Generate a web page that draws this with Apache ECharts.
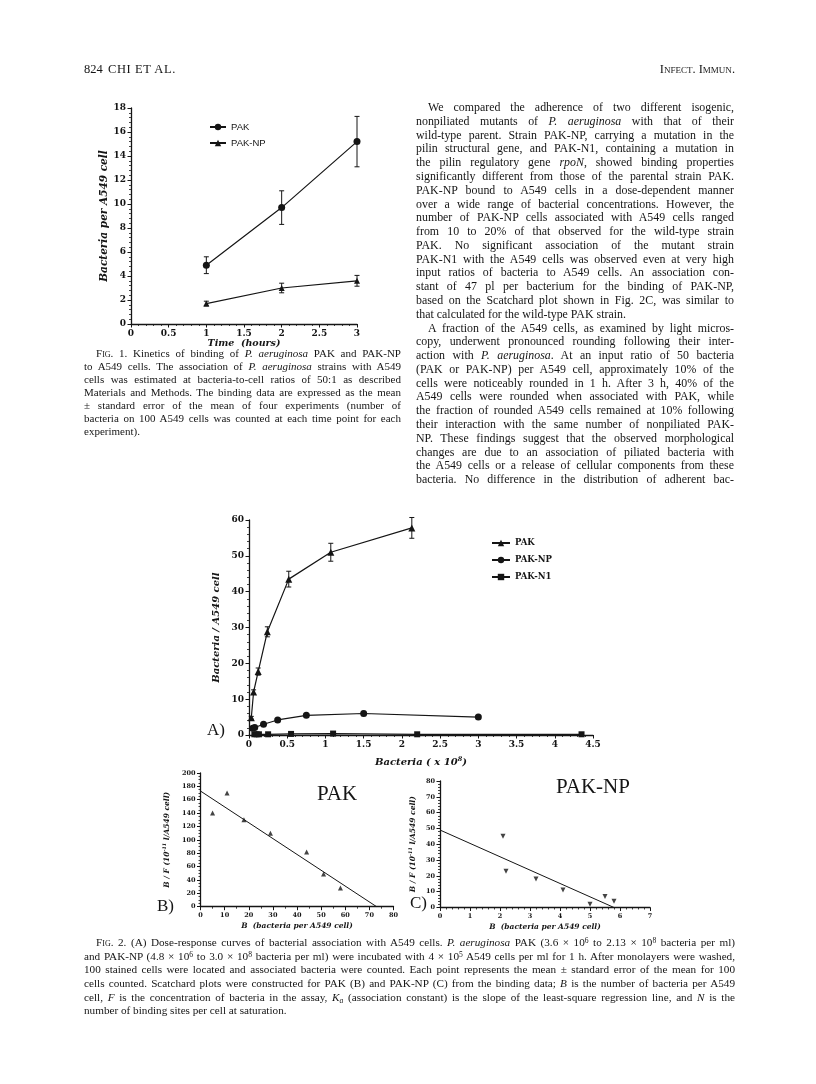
<!DOCTYPE html>
<html>
<head>
<meta charset="utf-8">
<script src="https://cdn.jsdelivr.net/npm/echarts@6/dist/echarts.min.js"></script>
<style>
html, body { margin: 0; padding: 0; background: #fff; }
#page { position: relative; width: 816px; height: 1084px; overflow: hidden; background: #fff; }
#chart { position: absolute; left: 0; top: 0; width: 816px; height: 1084px; }
.ln { position: absolute; white-space: nowrap; font-family: 'Liberation Serif', 'Times New Roman', serif; color: #151515; }
.ln sup { font-size: 0.68em; vertical-align: 0.45em; line-height: 0; }
.ln sub { font-size: 0.68em; vertical-align: -0.2em; line-height: 0; }
.sc { font-variant: small-caps; }
</style>
</head>
<body>
<div id="page">
  <div id="chart"></div>
  <div id="text"></div>
</div>
<script>
// Fig. 1 - kinetics of binding
const fig1Hours = [1, 2, 3]
const fig1Pak = [4.9, 9.7, 15.2]
const fig1PakErr = [0.7, 1.4, 2.1]
const fig1Np = [1.7, 3.0, 3.6]
const fig1NpErr = [0.2, 0.4, 0.45]

// Fig. 2A - dose response (bacteria x 10^8)
const doseBactPak = [0.03, 0.06, 0.12, 0.24, 0.52, 1.07, 2.13]
const dosePak = [4.8, 12, 17.7, 28.8, 43.5, 51, 57.8]
const dosePakErr = [0.4, 0.6, 1.0, 1.4, 2.2, 2.5, 2.9]
const doseBactNp = [0.048, 0.075, 0.19, 0.375, 0.75, 1.5, 3.0]
const doseNp = [1.9, 2.1, 3.0, 4.2, 5.5, 6.0, 5.0]
const doseNpErr = [0.2, 0.2, 0.2, 0.3, 0.3, 0.6, 0.3]
const doseBactN1 = [0.07, 0.1, 0.13, 0.25, 0.55, 1.1, 2.2, 4.35]
const doseN1 = [0.2, 0.2, 0.2, 0.2, 0.3, 0.4, 0.2, 0.2]

// Fig. 2B - Scatchard PAK
const scatPakB = [5, 11, 18, 29, 44, 51, 58]
const scatPakBF = [140, 170, 130, 110, 82, 49, 28]
const fitPakB = [0, 73]
const fitPakBF = [173, 0]

// Fig. 2C - Scatchard PAK-NP
const scatNpB = [2.1, 2.2, 3.2, 4.1, 5.0, 5.5, 5.8]
const scatNpBF = [45, 23, 18, 11, 2, 7, 4]
const fitNpB = [0, 5.8]
const fitNpBF = [49, 0]

const INK = '#151515'
const tickFont = 'DejaVu Serif'

function pairs (xs, ys) {
  return xs.map((x, i) => [x, ys[i]])
}

function errorSeries (xs, ys, errs, gi) {
  return {
    type: 'custom',
    xAxisIndex: gi,
    yAxisIndex: gi,
    silent: true,
    z: 3,
    encode: { x: 0, y: [1, 2] },
    data: xs.map((x, i) => [x, ys[i] - errs[i], ys[i] + errs[i]]),
    renderItem (params, api) {
      const lo = api.coord([api.value(0), api.value(1)])
      const hi = api.coord([api.value(0), api.value(2)])
      const w = 2.5
      const st = { stroke: INK, lineWidth: 1 }
      return {
        type: 'group',
        children: [
          { type: 'line', shape: { x1: lo[0], y1: lo[1], x2: hi[0], y2: hi[1] }, style: st },
          { type: 'line', shape: { x1: lo[0] - w, y1: lo[1], x2: lo[0] + w, y2: lo[1] }, style: st },
          { type: 'line', shape: { x1: hi[0] - w, y1: hi[1], x2: hi[0] + w, y2: hi[1] }, style: st }
        ]
      }
    }
  }
}

function valAxis (gi, min, max, interval, size, minor, name, nameGap, nameSize) {
  return {
    type: 'value',
    gridIndex: gi,
    min: min,
    max: max,
    interval: interval,
    splitLine: { show: false },
    axisLine: { show: true, onZero: false, lineStyle: { color: INK, width: 1.3 } },
    axisTick: { show: true, length: 3.5, lineStyle: { color: INK, width: 1 } },
    minorTick: { show: true, splitNumber: minor, length: 2, lineStyle: { color: INK, width: 0.8 } },
    axisLabel: { color: INK, fontFamily: tickFont, fontWeight: 'bold', fontSize: size, margin: 5 },
    name: name,
    nameLocation: 'middle',
    nameGap: nameGap,
    nameTextStyle: {
      color: INK,
      fontFamily: tickFont,
      fontStyle: 'italic',
      fontWeight: 'bold',
      fontSize: nameSize,
      rich: {
        sup: { fontFamily: tickFont, fontStyle: 'italic', fontWeight: 'bold', fontSize: nameSize * 0.65, color: INK, verticalAlign: 'top', padding: [0, 0, 5, 0] }
      }
    }
  }
}

function lineSeries (name, xs, ys, symbol, size, gi, rotate) {
  return {
    name: name,
    type: 'line',
    xAxisIndex: gi,
    yAxisIndex: gi,
    data: pairs(xs, ys),
    symbol: symbol,
    symbolSize: size,
    symbolRotate: rotate || 0,
    showSymbol: true,
    z: 4,
    lineStyle: { color: INK, width: 1.2 },
    itemStyle: { color: INK, borderWidth: 0 },
    emphasis: { disabled: true },
    animation: false
  }
}

const grids = [
  { left: 131, top: 108, width: 226, height: 216 },
  { left: 249, top: 520, width: 344, height: 215 },
  { left: 200.5, top: 773, width: 193, height: 133.7 },
  { left: 440, top: 781, width: 210, height: 126.5 }
].map(g => Object.assign({ outerBoundsMode: 'none', containLabel: false }, g))

const xAxes = [
  valAxis(0, 0, 3, 0.5, 9, 5, 'Time  (hours)', 14, 9.5),
  valAxis(1, 0, 4.5, 0.5, 9, 5, 'Bacteria ( x 10{sup|8})', 21, 10),
  valAxis(2, 0, 80, 10, 6.5, 2, 'B  (bacteria per A549 cell)', 15, 7.5),
  valAxis(3, 0, 7, 1, 6.5, 5, 'B  (bacteria per A549 cell)', 16, 7.5)
]
const yAxes = [
  valAxis(0, 0, 18, 2, 9, 5, 'Bacteria per A549 cell', 18, 10.5),
  valAxis(1, 0, 60, 10, 9, 5, 'Bacteria / A549 cell', 28, 10),
  valAxis(2, 0, 200, 20, 6.5, 4, 'B / F (10{sup|-11} l/A549 cell)', 28, 7.5),
  valAxis(3, 0, 80, 10, 6.5, 5, 'B / F (10{sup|-11} l/A549 cell)', 22, 7.5)
]

const series = [
  lineSeries('PAK (Fig. 1)', fig1Hours, fig1Pak, 'circle', 7, 0),
  lineSeries('PAK-NP (Fig. 1)', fig1Hours, fig1Np, 'triangle', 6, 0),
  errorSeries(fig1Hours, fig1Pak, fig1PakErr, 0),
  errorSeries(fig1Hours, fig1Np, fig1NpErr, 0),

  lineSeries('PAK', doseBactPak, dosePak, 'triangle', 7, 1),
  lineSeries('PAK-NP', doseBactNp, doseNp, 'circle', 7, 1),
  lineSeries('PAK-N1', doseBactN1, doseN1, 'rect', 6, 1),
  errorSeries(doseBactPak, dosePak, dosePakErr, 1),
  errorSeries(doseBactNp, doseNp, doseNpErr, 1),

  Object.assign(lineSeries('fit B', fitPakB, fitPakBF, 'none', 0, 2), { lineStyle: { color: INK, width: 1 } }),
  { type: 'scatter', xAxisIndex: 2, yAxisIndex: 2, data: pairs(scatPakB, scatPakBF), symbol: 'triangle', symbolSize: 5, itemStyle: { color: INK }, z: 5 },

  Object.assign(lineSeries('fit C', fitNpB, fitNpBF, 'none', 0, 3), { lineStyle: { color: INK, width: 1 } }),
  { type: 'scatter', xAxisIndex: 3, yAxisIndex: 3, data: pairs(scatNpB, scatNpBF), symbol: 'triangle', symbolRotate: 180, symbolSize: 5, itemStyle: { color: INK }, z: 5 }
]

const legends = [
  {
    left: 204, top: 117, orient: 'vertical', selectedMode: false,
    itemWidth: 16, itemHeight: 8, itemGap: 6,
    data: ['PAK (Fig. 1)', 'PAK-NP (Fig. 1)'],
    formatter: n => n.replace(' (Fig. 1)', ''),
    textStyle: { fontFamily: 'Liberation Sans', fontSize: 9.5, color: INK, lineHeight: 10, padding: [0, 0, 0, 0] }
  },
  {
    left: 486, top: 533, orient: 'vertical', selectedMode: false,
    itemWidth: 18, itemHeight: 8, itemGap: 7,
    data: ['PAK', 'PAK-NP', 'PAK-N1'],
    textStyle: { fontFamily: tickFont, fontWeight: 'bold', fontSize: 8.5, color: INK, lineHeight: 10 }
  }
]

function label (text, x, y, size) {
  return {
    type: 'text', x: x, y: y, silent: true,
    style: { text: text, fill: INK, font: size + 'px "Liberation Serif"', verticalAlign: 'middle' }
  }
}

const chart = echarts.init(document.getElementById('chart'), null, { renderer: 'canvas' })
chart.setOption({
  animation: false,
  backgroundColor: '#fff',
  grid: grids,
  xAxis: xAxes,
  yAxis: yAxes,
  legend: legends,
  series: series,
  graphic: [
    label('A)', 207, 731, 17),
    label('B)', 157, 907, 17),
    label('C)', 410, 904, 17),
    label('PAK', 317, 794, 21),
    label('PAK-NP', 556, 787, 21)
  ]
})

// page text
const rightColumn = [
  { t: 'We compared the adherence of two different isogenic,', indent: 12 },
  { t: 'nonpiliated mutants of <i>P. aeruginosa</i> with that of their' },
  { t: 'wild-type parent. Strain PAK-NP, carrying a mutation in the' },
  { t: 'pilin structural gene, and PAK-N1, containing a mutation in' },
  { t: 'the pilin regulatory gene <i>rpoN</i>, showed binding properties' },
  { t: 'significantly different from those of the parental strain PAK.' },
  { t: 'PAK-NP bound to A549 cells in a dose-dependent manner' },
  { t: 'over a wide range of bacterial concentrations. However, the' },
  { t: 'number of PAK-NP cells associated with A549 cells ranged' },
  { t: 'from 10 to 20% of that observed for the wild-type strain' },
  { t: 'PAK. No significant association of the mutant strain' },
  { t: 'PAK-N1 with the A549 cells was observed even at very high' },
  { t: 'input ratios of bacteria to A549 cells. An association con-' },
  { t: 'stant of 47 pl per bacterium for the binding of PAK-NP,' },
  { t: 'based on the Scatchard plot shown in Fig. 2C, was similar to' },
  { t: 'that calculated for the wild-type PAK strain.', last: true },
  { t: 'A fraction of the A549 cells, as examined by light micros-', indent: 12 },
  { t: 'copy, underwent pronounced rounding following their inter-' },
  { t: 'action with <i>P. aeruginosa</i>. At an input ratio of 50 bacteria' },
  { t: '(PAK or PAK-NP) per A549 cell, approximately 10% of the' },
  { t: 'cells were noticeably rounded in 1 h. After 3 h, 40% of the' },
  { t: 'A549 cells were rounded when associated with PAK, while' },
  { t: 'the fraction of rounded A549 cells remained at 10% following' },
  { t: 'their interaction with the same number of nonpiliated PAK-' },
  { t: 'NP. These findings suggest that the observed morphological' },
  { t: 'changes are due to an association of piliated bacteria with' },
  { t: 'the A549 cells or a release of cellular components from these' },
  { t: 'bacteria. No difference in the distribution of adherent bac-' }
]
const fig1Caption = [
  { t: 'F<span class="sc">ig</span>. 1. Kinetics of binding of <i>P. aeruginosa</i> PAK and PAK-NP', indent: 12 },
  { t: 'to A549 cells. The association of <i>P. aeruginosa</i> strains with A549' },
  { t: 'cells was estimated at bacteria-to-cell ratios of 50:1 as described' },
  { t: 'Materials and Methods. The binding data are expressed as the mean' },
  { t: '± standard error of the mean of four experiments (number of' },
  { t: 'bacteria on 100 A549 cells was counted at each time point for each' },
  { t: 'experiment).', last: true }
]
const fig2Caption = [
  { t: 'F<span class="sc">ig</span>. 2. (A) Dose-response curves of bacterial association with A549 cells. <i>P. aeruginosa</i> PAK (3.6 × 10<sup>6</sup> to 2.13 × 10<sup>8</sup> bacteria per ml)', indent: 12 },
  { t: 'and PAK-NP (4.8 × 10<sup>6</sup> to 3.0 × 10<sup>8</sup> bacteria per ml) were incubated with 4 × 10<sup>5</sup> A549 cells per ml for 1 h. After monolayers were washed,' },
  { t: '100 stained cells were located and associated bacteria were counted. Each point represents the mean ± standard error of the mean for 100' },
  { t: 'cells counted. Scatchard plots were constructed for PAK (B) and PAK-NP (C) from the binding data; <i>B</i> is the number of bacteria per A549' },
  { t: 'cell, <i>F</i> is the concentration of bacteria in the assay, <i>K<sub>a</sub></i> (association constant) is the slope of the least-square regression line, and <i>N</i> is the' },
  { t: 'number of binding sites per cell at saturation.', last: true }
]

const textBox = document.getElementById('text')

function addLine (html, x, cy, pitch, width, size, justify) {
  const d = document.createElement('div')
  d.className = 'ln'
  d.style.left = x + 'px'
  d.style.top = (cy - pitch / 2) + 'px'
  d.style.width = width + 'px'
  d.style.fontSize = size + 'px'
  d.style.lineHeight = pitch + 'px'
  const s = document.createElement('span')
  s.innerHTML = html
  d.appendChild(s)
  textBox.appendChild(d)
  const natural = s.getBoundingClientRect().width
  if (natural > width) {
    d.style.width = natural + 'px'
    d.style.transformOrigin = '0 50%'
    d.style.transform = 'scaleX(' + (width / natural) + ')'
  } else if (justify) {
    d.style.textAlign = 'justify'
    d.style.textAlignLast = 'justify'
  }
  return d
}

function placeBlock (lines, x, y0, pitch, width, size) {
  lines.forEach((ln, i) => {
    const ind = ln.indent || 0
    addLine(ln.t, x + ind, y0 + i * pitch, pitch, width - ind, size, !ln.last)
  })
}

addLine('824', 84, 69, 14, 30, 12.5, false)
const author = addLine('CHI ET AL.', 108, 69, 14, 90, 12.5, false)
author.style.letterSpacing = '0.6px'
const journal = addLine('I<span class="sc">nfect</span>. I<span class="sc">mmun</span>.', 600, 69, 14, 135, 12.5, false)
journal.style.textAlign = 'right'

placeBlock(rightColumn, 416, 108, 13.78, 318, 11.9)
placeBlock(fig1Caption, 84, 353, 13, 317, 11)
placeBlock(fig2Caption, 84, 943, 13.6, 651, 11.2)
</script>
</body>
</html>
